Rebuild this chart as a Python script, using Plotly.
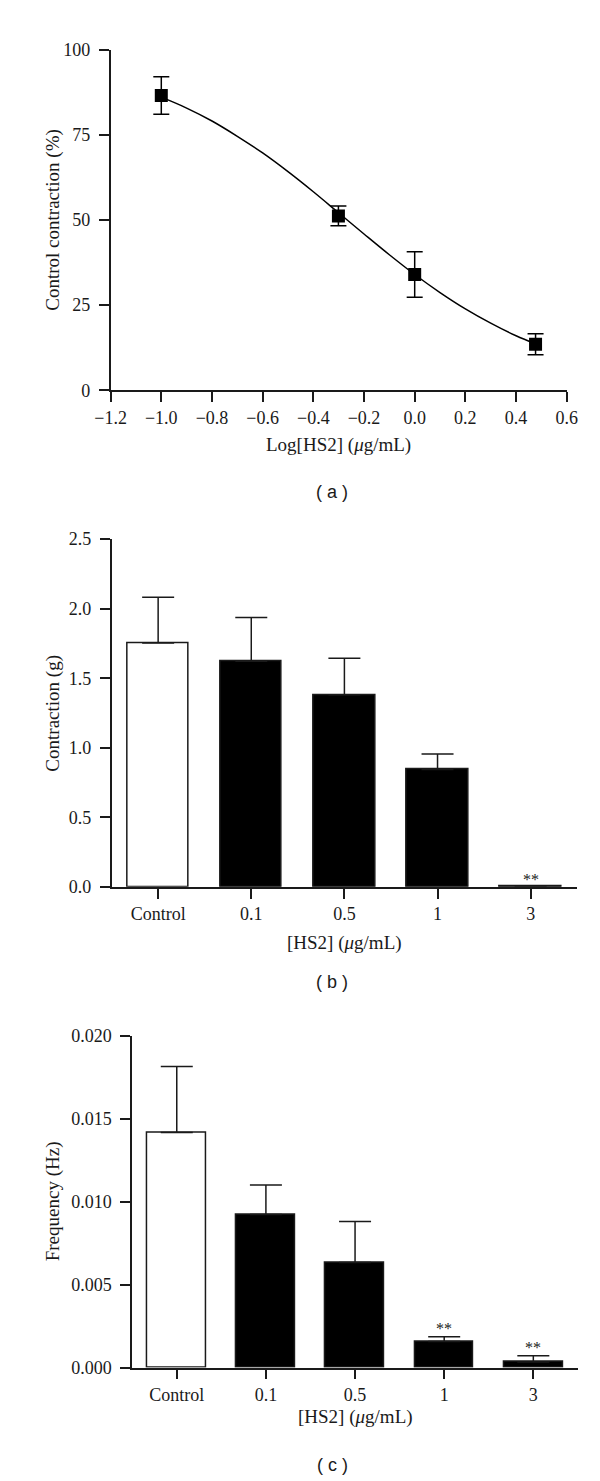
import plotly.graph_objects as go

W, H = 600, 1481

# ---------------- data ----------------
# Panel (a): concentration-response
log_conc = [-1.0, -0.301, 0.0, 0.477]
control_pct = [86.6, 51.2, 34.0, 13.5]
control_pct_err = [5.5, 2.9, 6.7, 3.1]
# fitted curve
curve_x = [-1.0, -0.9, -0.8, -0.7, -0.6, -0.5, -0.4, -0.3, -0.2, -0.1,
           0.0, 0.1, 0.2, 0.3, 0.4, 0.477]
curve_y = [86.1, 82.9, 79.1, 74.6, 69.7, 64.2, 58.3, 52.1, 45.9, 39.8,
           34.0, 28.7, 23.9, 19.7, 16.0, 13.6]
xticks_a = [-1.2, -1.0, -0.8, -0.6, -0.4, -0.2, 0.0, 0.2, 0.4, 0.6]
yticks_a = [0, 25, 50, 75, 100]

# Panels (b), (c): bar charts
categories = ["Control", "0.1", "0.5", "1", "3"]
contraction = [1.754, 1.622, 1.381, 0.844, 0.005]
contraction_err = [0.329, 0.314, 0.262, 0.111, 0.0]
contraction_sig = ["", "", "", "", "**"]
frequency = [0.01417, 0.00923, 0.00633, 0.00157, 0.00034]
frequency_err = [0.00397, 0.00178, 0.00248, 0.00028, 0.00037]
frequency_sig = ["", "", "", "**", "**"]
bar_colors = ["white", "black", "black", "black", "black"]

panel_labels = ["( a )", "( b )", "( c )"]

# ---------------- layout helpers ----------------
def px_x(p):
    return p / W

def px_y(p):
    return 1 - p / H

SERIF = "Liberation Serif"
SANS = "Liberation Sans"
INK = "#1a1a1a"
TICKFONT = dict(family=SERIF, size=18, color=INK)

dom = {
    "a": dict(x=[px_x(90.7), px_x(568.3)], y=[px_y(377.3), px_y(32.3)]),
    "b": dict(x=[px_x(91.7), px_x(579.3)], y=[px_y(880.7), px_y(528.3)]),
    "c": dict(x=[px_x(113.3), px_x(580.0)], y=[px_y(1368.0), px_y(1031.7)]),
}

fig = go.Figure()

# Panel (a)
fig.add_trace(go.Scatter(
    x=curve_x, y=curve_y, mode="lines", line=dict(color="black", width=1.5, shape="spline"),
    xaxis="x", yaxis="y", showlegend=False, hoverinfo="skip"))
fig.add_trace(go.Scatter(
    x=log_conc, y=control_pct, mode="markers",
    marker=dict(symbol="square", size=13, color="black"),
    error_y=dict(type="data", array=control_pct_err, visible=True, color="black",
                 thickness=1.5, width=8),
    xaxis="x", yaxis="y", showlegend=False))

# Panel (b)
fig.add_trace(go.Bar(
    x=list(range(len(categories))), y=contraction, width=0.66,
    marker=dict(color=bar_colors, line=dict(color=INK, width=1.5)),
    error_y=dict(type="data", symmetric=False, array=contraction_err,
                 arrayminus=[0] * len(categories), visible=True, color=INK,
                 thickness=1.5, width=16),
    xaxis="x2", yaxis="y2", showlegend=False))

# Panel (c)
fig.add_trace(go.Bar(
    x=list(range(len(categories))), y=frequency, width=0.66,
    marker=dict(color=bar_colors, line=dict(color=INK, width=1.5)),
    error_y=dict(type="data", symmetric=False, array=frequency_err,
                 arrayminus=[0] * len(categories), visible=True, color=INK,
                 thickness=1.5, width=16),
    xaxis="x3", yaxis="y3", showlegend=False))

axis_common = dict(showgrid=False, zeroline=False, showline=True, linecolor=INK,
                   linewidth=1.5, ticks="outside", ticklen=10, tickwidth=1.5,
                   tickcolor=INK, tickfont=TICKFONT, fixedrange=True)

fig.update_layout(
    width=W, height=H, margin=dict(l=0, r=0, t=0, b=0),
    paper_bgcolor="white", plot_bgcolor="white", bargap=0,
    xaxis=dict(domain=dom["a"]["x"], range=[-1.2, 0.6], tickvals=xticks_a,
               tickformat=".1f", anchor="y", **axis_common),
    yaxis=dict(domain=dom["a"]["y"], range=[0, 100], tickvals=yticks_a,
               anchor="x", ticklabelstandoff=5, **axis_common),
    xaxis2=dict(domain=dom["b"]["x"], range=[-0.5, 4.5],
                tickvals=list(range(len(categories))), ticktext=categories,
                anchor="y2", **axis_common),
    yaxis2=dict(domain=dom["b"]["y"], range=[0, 2.5], dtick=0.5, tick0=0,
                tickformat=".1f", anchor="x2", ticklabelstandoff=5, **axis_common),
    xaxis3=dict(domain=dom["c"]["x"], range=[-0.5, 4.5],
                tickvals=list(range(len(categories))), ticktext=categories,
                anchor="y3", **axis_common),
    yaxis3=dict(domain=dom["c"]["y"], range=[0, 0.02], dtick=0.005, tick0=0,
                tickformat=".3f", anchor="x3", ticklabelstandoff=5, **axis_common),
)

annotations = []
TITLEFONT = dict(family=SERIF, size=19, color=INK)

def add_titles(d, xtitle, ytitle, xtitle_y_px):
    cx = (d["x"][0] + d["x"][1]) / 2
    cy = (d["y"][0] + d["y"][1]) / 2
    annotations.append(dict(text=xtitle, x=cx, y=px_y(xtitle_y_px), xref="paper", yref="paper",
                            showarrow=False, font=TITLEFONT, xanchor="center", yanchor="middle"))
    annotations.append(dict(text=ytitle, x=px_x(30), y=cy, xref="paper", yref="paper",
                            showarrow=False, font=TITLEFONT, textangle=-90,
                            xanchor="center", yanchor="middle"))

add_titles(dom["a"], "Log[HS2] (<i>μ</i>g/mL)", "Control contraction (%)", 433)
add_titles(dom["b"], "[HS2] (<i>μ</i>g/mL)", "Contraction (g)", 938)
add_titles(dom["c"], "[HS2] (<i>μ</i>g/mL)", "Frequency (Hz)", 1418)

for lab, ypx in zip(panel_labels, [480, 977, 1467]):
    annotations.append(dict(text=lab, x=px_x(323), y=px_y(ypx), xref="paper", yref="paper",
                            showarrow=False, font=dict(family=SANS, size=18, color=INK),
                            xanchor="center", yanchor="middle"))

for i, s in enumerate(contraction_sig):
    if s:
        annotations.append(dict(text=s, x=i, y=contraction[i] + contraction_err[i],
                                xref="x2", yref="y2", showarrow=False,
                                font=dict(family=SERIF, size=16, color=INK),
                                xanchor="center", yanchor="bottom", yshift=-4))
for i, s in enumerate(frequency_sig):
    if s:
        annotations.append(dict(text=s, x=i, y=frequency[i] + frequency_err[i],
                                xref="x3", yref="y3", showarrow=False,
                                font=dict(family=SERIF, size=16, color=INK),
                                xanchor="center", yanchor="bottom", yshift=-2))

fig.update_layout(annotations=annotations)

fig.write_html("out.html")
